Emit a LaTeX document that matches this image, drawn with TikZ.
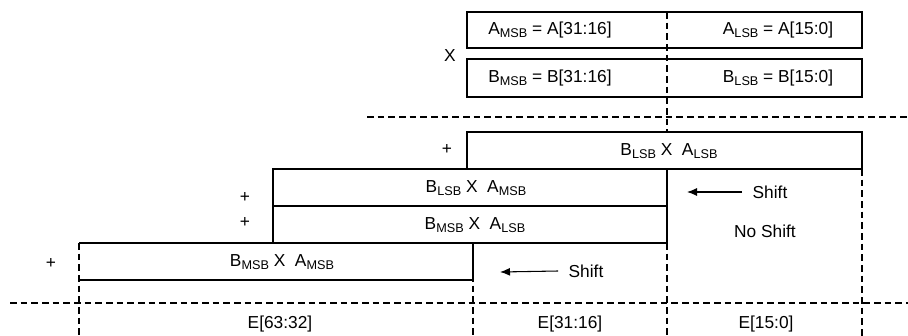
\documentclass[tikz,border=0pt]{standalone}
\usepackage{fontspec}
\setmainfont{Liberation Sans}
\usepackage{tikz}
\usetikzlibrary{calc}
\usetikzlibrary{arrows.meta}
\newcommand{\sbs}[1]{\raisebox{-0.35ex}{\fontsize{9.5}{10}\selectfont #1}}
\begin{document}
\begin{tikzpicture}[x=0.75pt,y=-0.75pt,line width=0.8pt,
        every node/.style={font=\fontsize{13}{15}\selectfont,inner sep=0pt},
        cut/.style={line width=1pt,dash pattern=on 5pt off 3pt},
        push/.style={-{Latex[length=7.5pt,width=6pt]}}]
        \useasboundingbox (0,0) rectangle (908,336);
        % operand words, split in halves
        \draw (467,12) rectangle (862,48);
        \draw (467,59) rectangle (862,97);
        \node (am) at (550,30) {A\sbs{MSB} = A[31:16]};
        \node (al) at (778,30) {A\sbs{LSB} = A[15:0]};
        \node (bm) at (550,78) {B\sbs{MSB} = B[31:16]};
        \node (bl) at (778,78) {B\sbs{LSB} = B[15:0]};
        \node (mul) at (450,56) {X};
        % partial products
        \draw (467,132) rectangle (862,169);
        \draw (273,169) rectangle (667,206);
        \draw (273,206) rectangle (667,243);
        \draw (79,243) -- (473,243) -- (473,280) -- (79,280);
        \node (p0) at (669,151) {B\sbs{LSB}~X~~A\sbs{LSB}};
        \node (p1) at (476,188) {B\sbs{LSB}~X~~A\sbs{MSB}};
        \node (p2) at (475,225) {B\sbs{MSB}~X~~A\sbs{LSB}};
        \node (p3) at (282,262) {B\sbs{MSB}~X~~A\sbs{MSB}};
        \node (s0) at (447,149) {+};
        \node (s1) at (245,197) {+};
        \node (s2) at (245,222) {+};
        \node (s3) at (51,263) {+};
        % shifts
        \node (sh1) at (770,192) {Shift};
        \node (sh2) at (586,271) {Shift};
        \node (nsh) at (765,231) {No Shift};
        \coordinate (t1) at (687,192);
        \coordinate (t2) at (500,272);
        \draw[push] ($(sh1.west)+(-10,0)$) -- (t1);
        \draw[push] ($(sh2.west)+(-10,0)$) -- (t2);
        % result fields
        \coordinate (h1) at (367,117);
        \coordinate (h2) at (908,117);
        \coordinate (h3) at (10,303);
        \coordinate (h4) at (908,303);
        \draw[cut] (h1) -- (h2);
        \draw[cut] (h3) -- (h4);
        \draw[cut] (667,12) -- (667,132);
        \draw[cut] (667,243) -- (667,336);
        \draw[cut] (862,169) -- (862,336);
        \draw[cut] (473,243) -- (473,336);
        \draw[cut] (79,243) -- (79,336);
        \node (e2) at (280,324) {E[63:32]};
        \node (e1) at (570,324) {E[31:16]};
        \node (e0) at (766,324) {E[15:0]};
\end{tikzpicture}
\end{document}
